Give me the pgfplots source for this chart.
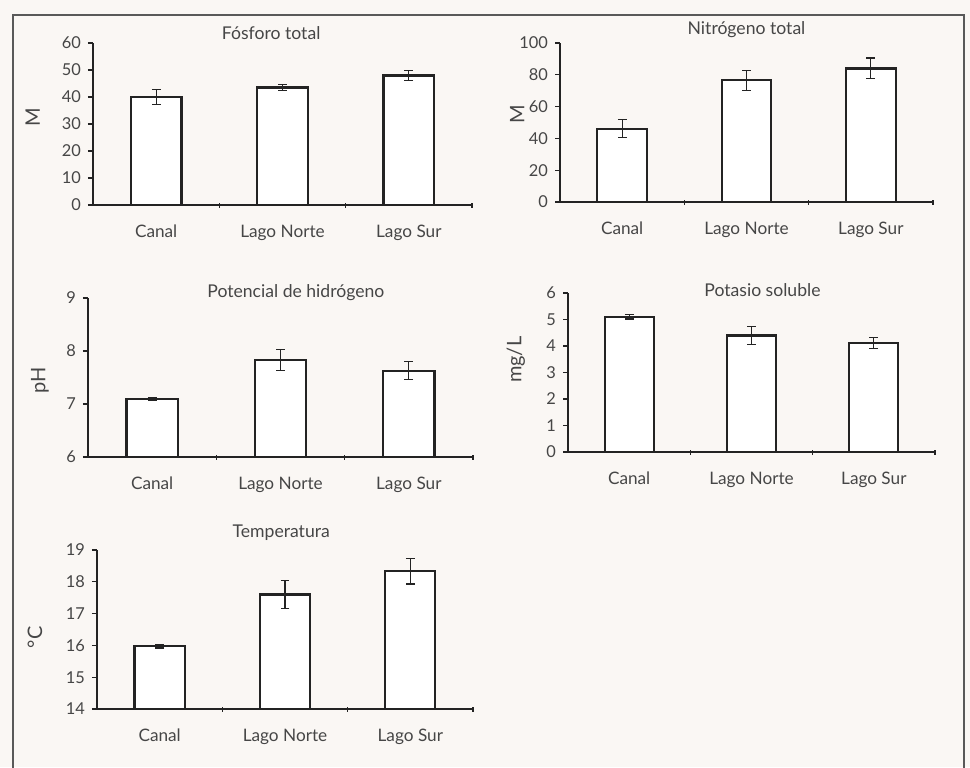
\documentclass[border=0pt]{standalone}
\usepackage{pgfplots}
\pgfplotsset{compat=1.18}
\usepackage{fontspec}
\setmainfont{Lato}
\definecolor{bg}{RGB}{250,247,244}
\definecolor{txt}{RGB}{70,70,70}
\definecolor{ln}{RGB}{35,35,35}
\pgfplotsset{
  panel/.style={
    scale only axis,
    anchor=south west,
    axis lines*=left,
    axis line style={ln, line width=0.7pt, -},
    axis on top,
    ybar, bar shift=0pt, bar width=0.4,
    xmin=-0.5, xmax=2.5,
    xtick={0,1,2},
    xticklabels={Canal, Lago Norte, Lago Sur},
    x tick label style={font=\fontsize{8.6}{10}\selectfont, text=txt, yshift=-4pt},
    extra x ticks={0.5,1.5,2.5},
    extra x tick labels={},
    extra x tick style={xtick style={draw=ln, line width=0.6pt}, tick align=center},
    y tick label style={font=\fontsize{8.2}{9}\selectfont, text=txt},
    /pgf/number format/assume math mode=true,
    major tick length=2.5pt,
    tick style={ln, line width=0.6pt},
    xtick style={draw=none},
    tick align=outside,
    ylabel style={font=\fontsize{10}{12}\selectfont, text=txt, anchor=center},
    title style={font=\fontsize{8.8}{10}\selectfont, text=txt, anchor=center},
    error bars/y dir=both, error bars/y explicit,
    error bars/error bar style={line width=0.55pt, draw=ln},
    error bars/error mark options={rotate=90, mark size=2.2pt, line width=0.55pt, draw=ln},
  },
  barstyle/.style={draw=ln, fill=white, line width=1.1pt}
}
\begin{document}
\begin{tikzpicture}
\fill[bg] (0pt,0pt) rectangle (485pt,-383.5pt);
\useasboundingbox (0pt,0pt) rectangle (485pt,-383.5pt);
\draw[gray!70!black, line width=0.6pt] (6.5pt,-390pt) -- (6.5pt,-7.5pt) -- (482pt,-7.5pt) -- (482pt,-390pt);

% Fosforo total
\begin{axis}[panel, at={(46.5pt,-102.5pt)}, width=189.5pt, height=81pt,
  ymin=0, ymax=60, ytick={0,10,...,60},
  ylabel={M}, ylabel style={at={(axis description cs:-0.159,0.54)}},
  title={Fósforo total}, title style={at={(axis description cs:0.47,1)}, yshift=-1pt}]
\addplot[barstyle] coordinates {(0,40) +- (0,2.8) (1,43.5) +- (0,1.1) (2,48) +- (0,1.8)};
\end{axis}

% Nitrogeno total
\begin{axis}[panel, at={(280pt,-101pt)}, width=186.5pt, height=79.5pt,
  ymin=0, ymax=100, ytick={0,20,...,100},
  ylabel={M}, ylabel style={at={(axis description cs:-0.115,0.55)}},
  title={Nitrógeno total}, title style={at={(axis description cs:0.50,1)}, yshift=0.5pt}]
\addplot[barstyle] coordinates {(0,46) +- (0,5.7) (1,76.5) +- (0,6.3) (2,84) +- (0,6.6)};
\end{axis}

% pH
\begin{axis}[panel, at={(44pt,-228.5pt)}, width=192.5pt, height=79.5pt,
  ymin=6, ymax=9, ytick={6,7,8,9},
  ylabel={pH}, ylabel style={at={(axis description cs:-0.125,0.48)}},
  title={Potencial de hidrógeno}, title style={at={(axis description cs:0.54,1)}, yshift=-3.5pt}]
\addplot[barstyle] coordinates {(0,7.09) +- (0,0.03) (1,7.83) +- (0,0.2) (2,7.63) +- (0,0.17)};
\end{axis}

% Potasio soluble
\begin{axis}[panel, at={(284pt,-226pt)}, width=183.5pt, height=79.5pt,
  ymin=0, ymax=6, ytick={0,1,...,6},
  ylabel={mg/L}, ylabel style={at={(axis description cs:-0.142,0.58)}},
  title={Potasio soluble}, title style={at={(axis description cs:0.53,1)}, yshift=-4.5pt}]
\addplot[barstyle] coordinates {(0,5.1) +- (0,0.08) (1,4.4) +- (0,0.35) (2,4.12) +- (0,0.2)};
\end{axis}

% Temperatura
\begin{axis}[panel, at={(48.5pt,-354.5pt)}, width=188pt, height=79.5pt,
  ymin=14, ymax=19, ytick={14,15,...,19},
  ylabel={°C}, ylabel style={at={(axis description cs:-0.165,0.45)}},
  title={Temperatura}, title style={at={(axis description cs:0.49,1)}, yshift=2.5pt}]
\addplot[barstyle] coordinates {(0,15.97) +- (0,0.05) (1,17.6) +- (0,0.44) (2,18.33) +- (0,0.4)};
\end{axis}
\end{tikzpicture}
\end{document}
